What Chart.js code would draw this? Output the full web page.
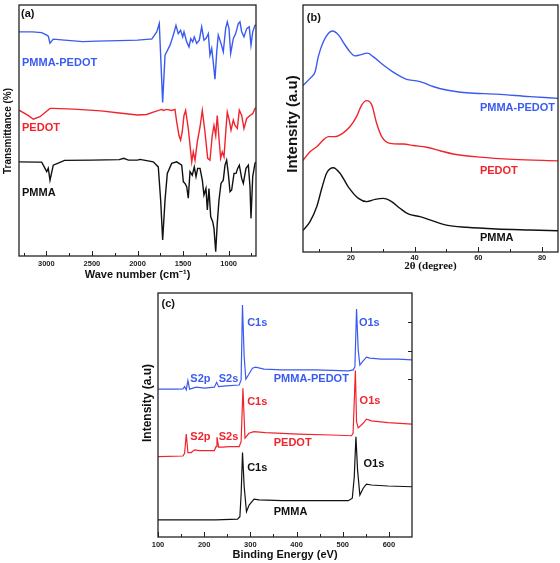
<!DOCTYPE html>
<html>
<head>
<meta charset="utf-8">
<script src="https://cdn.jsdelivr.net/npm/chart.js@4.4.0/dist/chart.umd.min.js"></script>
<style>
  html, body { margin: 0; padding: 0; background: #fff; }
  body { width: 560px; height: 563px; position: relative; overflow: hidden; }
  canvas { position: absolute; }
</style>
</head>
<body>
<canvas id="chartA" width="280" height="285" style="left:0;top:0"></canvas>
<canvas id="chartB" width="280" height="285" style="left:280px;top:0"></canvas>
<canvas id="chartC" width="340" height="278" style="left:100px;top:285px"></canvas>
<script>
// colours of the three samples
const BLUE = '#3b5bf0';
const RED = '#f0242c';
const BLACK = '#111111';

// (a) FTIR: [wave number, transmittance]
const ftirPmmaPedot = [[3300,89.3],[3150,89.3],[3051,89.0],[2996,88.0],[2979,87.6],[2960,84.8],[2924,86.4],[2800,86.0],[2600,85.4],[2448,85.6],[2200,85.8],[2000,86.0],[1863,86.4],[1844,86.4],[1789,89.3],[1761,92.6],[1724,61.2],[1698,80.0],[1643,84.0],[1607,88.0],[1578,91.9],[1553,88.6],[1527,89.9],[1504,87.3],[1490,89.3],[1460,85.3],[1435,83.3],[1416,86.6],[1394,85.3],[1377,87.3],[1351,84.7],[1322,86.0],[1296,91.3],[1271,86.0],[1249,86.6],[1223,88.6],[1205,80.0],[1186,82.7],[1169,77.3],[1150,70.4],[1131,81.3],[1114,88.0],[1084,84.7],[1059,81.3],[1033,90.6],[1015,93.3],[996,90.6],[978,80.7],[949,86.6],[923,88.6],[894,92.6],[876,93.3],[857,89.3],[832,87.3],[802,90.6],[774,91.3],[755,84.0],[736,89.3],[711,91.9],[700,92.0]];
const ftirPedot = [[3300,58.1],[3200,56.0],[3143,54.5],[3070,55.5],[3000,57.6],[2960,58.8],[2924,58.8],[2700,58.5],[2400,57.8],[2200,57.0],[2000,56.2],[1900,56.4],[1827,57.3],[1735,58.4],[1717,58.0],[1680,58.4],[1625,58.0],[1589,58.4],[1570,53.4],[1545,48.0],[1527,46.2],[1509,49.5],[1490,56.0],[1472,58.0],[1443,50.8],[1416,41.5],[1405,37.5],[1388,41.5],[1369,38.2],[1344,45.5],[1314,51.4],[1289,58.0],[1260,49.5],[1230,38.9],[1205,38.2],[1180,48.0],[1161,52.0],[1142,48.0],[1125,56.0],[1106,46.8],[1088,38.9],[1070,41.5],[1051,39.5],[1029,50.8],[1015,57.3],[993,54.1],[974,50.1],[949,54.1],[930,52.0],[905,50.8],[883,58.1],[857,56.0],[832,50.8],[802,54.8],[766,56.0],[736,56.7],[711,58.8],[700,59.0]];
const ftirPmma = [[3300,37.5],[3100,37.4],[3051,37.4],[2996,33.6],[2979,35.0],[2960,30.2],[2924,36.2],[2870,37.0],[2800,38.1],[2500,38.2],[2200,38.4],[2150,38.9],[2100,38.2],[2000,38.2],[1973,38.5],[1827,37.5],[1772,35.5],[1746,22.3],[1724,6.4],[1698,22.3],[1673,32.9],[1625,36.9],[1570,37.5],[1515,36.2],[1497,29.6],[1479,28.9],[1460,27.6],[1443,23.0],[1424,33.6],[1399,32.2],[1377,35.5],[1358,31.6],[1340,34.9],[1314,34.9],[1289,30.2],[1271,24.3],[1249,26.9],[1234,18.3],[1216,26.9],[1197,15.6],[1175,13.7],[1161,11.0],[1142,1.7],[1125,13.0],[1106,22.3],[1084,28.9],[1059,30.2],[1040,36.2],[1022,38.2],[1004,32.9],[985,25.6],[967,26.3],[941,32.9],[919,32.9],[901,34.9],[883,36.2],[857,30.9],[839,28.9],[810,34.9],[784,36.2],[766,27.6],[755,15.0],[736,31.6],[711,36.9],[700,37.5]];
const ftirTicks = [3000, 2500, 2000, 1500, 1000];

// (b) XRD: [2 theta, intensity]
const xrdPmmaPedot = [[5,67.4],[7.2,70.3],[8.8,73.0],[9.8,79.1],[11.4,85.2],[13.0,88.6],[14.3,89.5],[16.1,87.9],[18.2,83.8],[19.7,81.1],[21.3,79.4],[22.9,79.8],[25.2,80.5],[27.0,79.1],[30.2,75.7],[33.8,72.4],[37.5,69.9],[40.6,69.3],[42.7,68.6],[45.8,67.0],[50.0,65.6],[56.3,64.5],[65.7,63.9],[76.2,62.9],[85,62.2]];
const xrdPedot = [[5,37.1],[7.2,40.6],[9.3,42.6],[11.4,45.4],[13.0,46.7],[15.0,46.7],[17.2,47.8],[19.7,50.7],[21.8,54.8],[23.4,59.5],[25.0,61.3],[26.6,59.5],[28.1,52.1],[29.7,46.7],[32.3,44.0],[36.5,43.7],[39.6,43.1],[43.8,42.4],[48.0,41.0],[52.1,39.7],[60.5,38.4],[70.9,37.5],[85,36.9]];
const xrdPmma = [[5,8.7],[7.2,12.3],[9.3,18.3],[10.9,25.8],[12.4,31.9],[14.5,34.1],[16.6,31.9],[19.2,26.4],[22.4,21.7],[25.0,20.4],[27.6,21.3],[30.2,21.7],[32.8,20.4],[35.4,17.7],[38.0,15.4],[41.7,14.3],[44.8,13.0],[50.0,10.9],[56.3,10.0],[65.7,9.3],[76.2,8.9],[85,8.6]];
const xrdTicks = [20, 40, 60, 80];

// (c) XPS: [binding energy, intensity]
const xpsPmmaPedot = [[100,60.6],[139.7,60.6],[154,60.7],[157.6,61.6],[161.2,60.3],[164.8,64.1],[168.4,60.6],[182.7,61.4],[200.6,61.0],[222,61.4],[227,63.4],[231.3,61.6],[247.1,61.9],[275.8,62.3],[280,64.4],[282.9,95.1],[286.6,73.9],[290.2,64.7],[295.8,66.4],[304.4,69.2],[311.6,69.6],[329.5,68.8],[368.9,68.5],[440.5,68.5],[512.1,68.1],[522.8,68.5],[526.4,69.8],[529.9,93.4],[533.5,76.7],[537.1,70.5],[544.3,72.2],[551.4,73.7],[558.6,73.3],[583.5,72.9],[619.4,72.9],[650,72.6]];
const xpsPedot = [[100,32.9],[154,33.2],[157.6,34.3],[161.2,42.2],[164.8,34.6],[171.9,34.6],[179.1,35.7],[189.8,35.4],[222,35.4],[225.6,37.0],[227.7,40.9],[231.3,36.8],[239.9,36.8],[254.2,37.0],[275.8,37.0],[280,39.1],[283.9,61.0],[288.3,40.5],[296.9,42.5],[307.6,43.2],[332.7,42.8],[404.3,42.2],[475.8,41.8],[518.8,41.5],[522.4,42.5],[527.4,68.2],[529.9,47.3],[533.5,44.7],[544.3,46.6],[551.4,48.3],[562.1,47.6],[597.9,46.9],[650,46.3]];
const xpsPmma = [[100,7.0],[225.6,7.0],[272.2,7.3],[277.3,8.3],[280.1,17.9],[283,34.6],[286.6,20.6],[291.6,10.4],[297.3,13.1],[308,15.5],[318.8,15.2],[368.9,14.9],[440.5,14.9],[512.1,14.9],[520.7,15.9],[525,24.7],[528.6,41.1],[532.1,27.5],[537.1,17.2],[544.3,20.0],[551.4,21.7],[562.1,21.3],[597.9,20.9],[650,20.6]];
const xpsTicks = [100, 200, 300, 400, 500, 600];
const xpsRightTicks = [64.7, 76.3, 88.0];

// text placed inside the plots, in data units
const labelsA = [
  { text: '(a)', x: 3278, y: 96.3, color: BLACK },
  { text: 'PMMA-PEDOT', x: 3267, y: 76.8, color: BLUE },
  { text: 'PEDOT', x: 3267, y: 50.9, color: RED },
  { text: 'PMMA', x: 3267, y: 25.1, color: BLACK }
];
const labelsB = [
  { text: '(b)', x: 6.2, y: 94.6, color: BLACK },
  { text: 'PMMA-PEDOT', x: 60.5, y: 58.3, color: BLUE },
  { text: 'PEDOT', x: 60.5, y: 32.8, color: RED },
  { text: 'PMMA', x: 60.5, y: 5.7, color: BLACK }
];
const labelsC = [
  { text: '(c)', x: 107.5, y: 95.3, color: BLACK },
  { text: 'C1s', x: 293, y: 87.6, color: BLUE },
  { text: 'O1s', x: 535, y: 87.6, color: BLUE },
  { text: 'S2p', x: 170, y: 64.8, color: BLUE },
  { text: 'S2s', x: 231.4, y: 64.8, color: BLUE },
  { text: 'PMMA-PEDOT', x: 350.6, y: 64.8, color: BLUE },
  { text: 'C1s', x: 293, y: 55.2, color: RED },
  { text: 'O1s', x: 536.5, y: 55.9, color: RED },
  { text: 'S2p', x: 170, y: 41.1, color: RED },
  { text: 'S2s', x: 231.4, y: 41.1, color: RED },
  { text: 'PEDOT', x: 350.6, y: 38.4, color: RED },
  { text: 'C1s', x: 293, y: 28.4, color: BLACK },
  { text: 'O1s', x: 545, y: 29.8, color: BLACK },
  { text: 'PMMA', x: 350.6, y: 10.1, color: BLACK }
];

Chart.defaults.font.family = '"Liberation Sans", Arial, sans-serif';
Chart.defaults.color = '#111';

// box round the plot, inward ticks, y title and the in-plot labels
const framePlugin = {
  id: 'frame',
  afterDatasetsDraw(chart, args, opts) {
    const { ctx, chartArea: a } = chart;
    const xs = chart.scales.x, ys = chart.scales.y;
    ctx.save();
    ctx.strokeStyle = '#222';
    ctx.lineWidth = 1.3;
    ctx.strokeRect(a.left, a.top, a.right - a.left, a.bottom - a.top);
    ctx.lineWidth = 1;
    const lo = Math.min(xs.min, xs.max), hi = Math.max(xs.min, xs.max);
    for (let v = Math.ceil(lo / opts.minor) * opts.minor; v < hi; v += opts.minor) {
      const px = Math.round(xs.getPixelForValue(v)) + 0.5;
      const len = v % opts.major === 0 ? 5 : 3;
      ctx.beginPath();
      ctx.moveTo(px, a.bottom);
      ctx.lineTo(px, a.bottom - len);
      ctx.stroke();
    }
    for (const v of opts.rightTicks || []) {
      const py = Math.round(ys.getPixelForValue(v)) + 0.5;
      ctx.beginPath();
      ctx.moveTo(a.right, py);
      ctx.lineTo(a.right - 4, py);
      ctx.stroke();
    }
    // y axis title
    ctx.fillStyle = '#111';
    ctx.font = 'bold ' + opts.yTitle.size + 'px "Liberation Sans", Arial, sans-serif';
    ctx.textAlign = 'center';
    ctx.textBaseline = 'middle';
    ctx.translate(opts.yTitle.x, opts.yTitle.y);
    ctx.rotate(-Math.PI / 2);
    ctx.fillText(opts.yTitle.text, 0, 0);
    ctx.setTransform(1, 0, 0, 1, 0, 0);
    // labels inside the plot
    ctx.font = 'bold 11px "Liberation Sans", Arial, sans-serif';
    ctx.textAlign = 'left';
    for (const l of opts.labels) {
      ctx.fillStyle = l.color;
      ctx.fillText(l.text, xs.getPixelForValue(l.x), ys.getPixelForValue(l.y));
    }
    ctx.restore();
  }
};

function series(points, color, width) {
  return {
    data: points.map(([x, y]) => ({ x, y })),
    borderColor: color,
    borderWidth: width,
    pointRadius: 0,
    fill: false
  };
}

function makeChart(id, cfg) {
  new Chart(document.getElementById(id), {
    type: 'line',
    data: { datasets: cfg.datasets },
    options: {
      responsive: false,
      animation: false,
      events: [],
      layout: { padding: cfg.padding },
      elements: { line: cfg.line },
      plugins: {
        legend: { display: false },
        tooltip: { enabled: false },
        frame: { minor: cfg.minor, major: cfg.major, labels: cfg.labels, rightTicks: cfg.rightTicks, yTitle: cfg.yTitle }
      },
      scales: {
        x: {
          type: 'linear',
          reverse: !!cfg.reverse,
          min: cfg.xMin,
          max: cfg.xMax,
          grid: { display: false, drawTicks: false },
          border: { display: false },
          afterBuildTicks: s => { s.ticks = cfg.tickValues.map(v => ({ value: v })); },
          ticks: {
            autoSkip: false,
            maxRotation: 0,
            padding: cfg.tickPad,
            color: '#222',
            font: { size: 7.5, weight: 'bold' },
            callback: v => String(v)
          },
          title: {
            display: true,
            text: cfg.xTitle,
            color: '#111',
            font: cfg.xTitleFont,
            padding: { top: 0, bottom: cfg.xTitlePad }
          },
          afterFit: s => { s.height = cfg.xHeight; }
        },
        y: {
          min: 0,
          max: 100,
          grid: { display: false, drawTicks: false },
          border: { display: false },
          ticks: { display: false },
          afterFit: s => { s.width = cfg.yWidth; }
        }
      }
    },
    plugins: [framePlugin]
  });
}

makeChart('chartA', {
  datasets: [series(ftirPmmaPedot, BLUE, 1.4), series(ftirPedot, RED, 1.4), series(ftirPmma, BLACK, 1.4)],
  line: { tension: 0 },
  padding: { left: 0, right: 24, top: 5, bottom: 0 },
  reverse: true, xMin: 700, xMax: 3300, tickValues: ftirTicks, minor: 250, major: 500,
  tickPad: 3, xHeight: 29, xTitle: 'Wave number (cm⁻¹)',
  xTitleFont: { size: 11, weight: 'bold' }, xTitlePad: 3,
  yTitle: { text: 'Transmittance (%)', size: 10, x: 8, y: 131 }, yWidth: 19,
  labels: labelsA
});

makeChart('chartB', {
  datasets: [series(xrdPmmaPedot, BLUE, 1.4), series(xrdPedot, RED, 1.4), series(xrdPmma, BLACK, 1.4)],
  line: { tension: 0.4, cubicInterpolationMode: 'monotone' },
  padding: { left: 0, right: 2, top: 5, bottom: 0 },
  xMin: 5, xMax: 85, tickValues: xrdTicks, minor: 10, major: 20,
  tickPad: 1, xHeight: 33, xTitle: '2θ (degree)',
  xTitleFont: { family: '"Liberation Serif", "Times New Roman", serif', size: 11, weight: 'bold' }, xTitlePad: 12,
  yTitle: { text: 'Intensity (a.u)', size: 15, x: 13, y: 124 }, yWidth: 23,
  labels: labelsB
});

makeChart('chartC', {
  datasets: [series(xpsPmmaPedot, BLUE, 1.2), series(xpsPedot, RED, 1.2), series(xpsPmma, BLACK, 1.2)],
  line: { tension: 0 },
  padding: { left: 36, right: 28, top: 8, bottom: 0 },
  xMin: 100, xMax: 650, tickValues: xpsTicks, minor: 50, major: 100,
  tickPad: 3, xHeight: 26, xTitle: 'Binding Energy (eV)',
  xTitleFont: { size: 11, weight: 'bold' }, xTitlePad: 1,
  yTitle: { text: 'Intensity (a.u)', size: 12, x: 48, y: 118 }, yWidth: 22,
  rightTicks: xpsRightTicks,
  labels: labelsC
});
</script>
</body>
</html>
